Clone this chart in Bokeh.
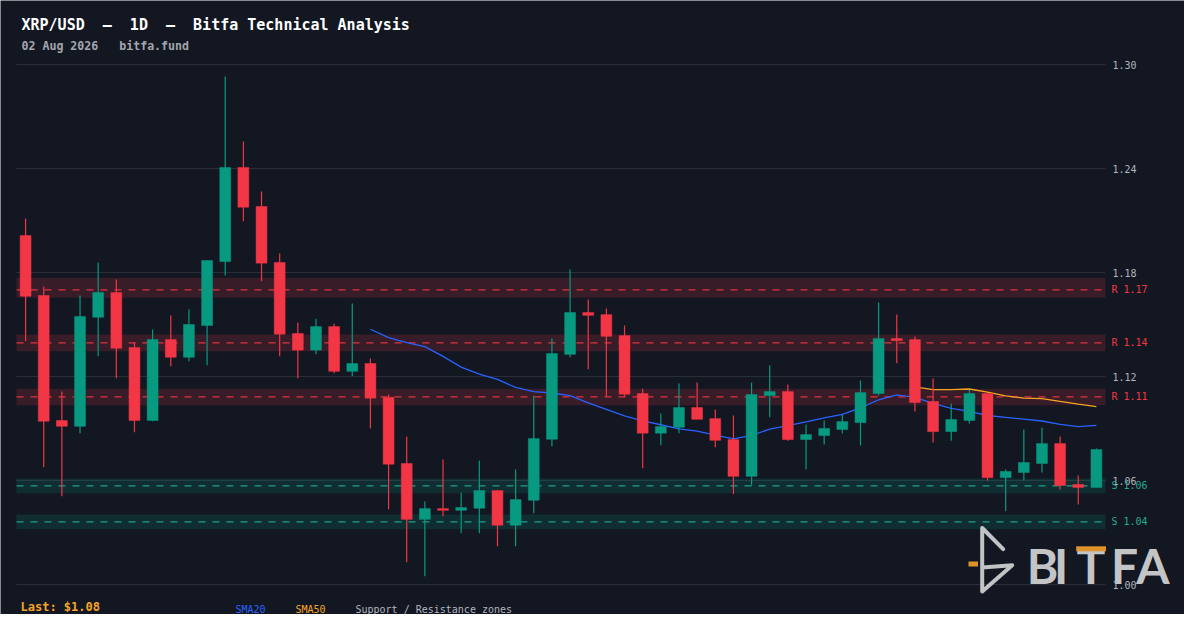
import numpy as np
import pandas as pd
from bokeh.plotting import figure
from bokeh.models import ColumnDataSource, Range1d, PolyAnnotation, BoxAnnotation
from bokeh.core.properties import value
from bokeh.embed import file_html
from bokeh.resources import INLINE

# ---------------- data ----------------
opens = [1.2013, 1.1667, 1.0946, 1.0913, 1.1542, 1.1684, 1.1367, 1.0946, 1.1413, 1.1311,
         1.1494, 1.1863, 1.2406, 1.2181, 1.1858, 1.1448, 1.1352, 1.1488, 1.1230, 1.1275,
         1.1080, 1.0698, 1.0376, 1.0438, 1.0428, 1.0440, 1.0542, 1.0342, 1.0486, 1.0838,
         1.1328, 1.1569, 1.1557, 1.1436, 1.1102, 1.0873, 1.0907, 1.1021, 1.0957, 1.0836,
         1.0624, 1.1090, 1.1113, 1.0836, 1.0859, 1.0894, 1.0934, 1.1102, 1.1419, 1.1413,
         1.1056, 1.0882, 1.0946, 1.1102, 1.0617, 1.0646, 1.0698, 1.0813, 1.0577, 1.0560]
highs = [1.2112, 1.1719, 1.1113, 1.1667, 1.1858, 1.1759, 1.1396, 1.1471, 1.1552, 1.1586,
         1.1869, 1.2931, 1.2556, 1.2267, 1.1909, 1.1511, 1.1533, 1.1504, 1.1621, 1.1304,
         1.1096, 1.0854, 1.0479, 1.0721, 1.0530, 1.0715, 1.0542, 1.0663, 1.1090, 1.1419,
         1.1817, 1.1644, 1.1592, 1.1494, 1.1130, 1.0986, 1.1159, 1.1165, 1.1009, 1.0975,
         1.1165, 1.1263, 1.1154, 1.0923, 1.0946, 1.0980, 1.1177, 1.1627, 1.1557, 1.1431,
         1.1188, 1.1044, 1.1125, 1.1102, 1.0663, 1.0894, 1.0905, 1.0854, 1.0629, 1.0785]
lows = [1.1404, 1.0677, 1.0509, 1.0873, 1.1317, 1.1190, 1.0878, 1.0942, 1.1259, 1.1288,
        1.1265, 1.1783, 1.2096, 1.1750, 1.1317, 1.1190, 1.1328, 1.1219, 1.1201, 1.0901,
        1.0434, 1.0128, 1.0048, 1.0394, 1.0296, 1.0296, 1.0221, 1.0221, 1.0411, 1.0798,
        1.1311, 1.1242, 1.1084, 1.1084, 1.0671, 1.0803, 1.0873, 1.0953, 1.0792, 1.0521,
        1.0571, 1.0965, 1.0830, 1.0663, 1.0807, 1.0871, 1.0802, 1.1090, 1.1276, 1.0998,
        1.0819, 1.0830, 1.0929, 1.0600, 1.0423, 1.0600, 1.0646, 1.0548, 1.0461, 1.0560]
closes = [1.1663, 1.0942, 1.0913, 1.1546, 1.1684, 1.1363, 1.0946, 1.1413, 1.1311, 1.1500,
          1.1869, 1.2406, 1.2177, 1.1854, 1.1444, 1.1352, 1.1488, 1.1230, 1.1275, 1.1075,
          1.0694, 1.0376, 1.0438, 1.0428, 1.0444, 1.0542, 1.0342, 1.0490, 1.0842, 1.1332,
          1.1569, 1.1553, 1.1432, 1.1098, 1.0873, 1.0911, 1.1021, 1.0953, 1.0832, 1.0624,
          1.1096, 1.1113, 1.0836, 1.0865, 1.0900, 1.0940, 1.1107, 1.1419, 1.1407, 1.1050,
          1.0882, 1.0952, 1.1102, 1.0617, 1.0652, 1.0704, 1.0813, 1.0571, 1.0560, 1.0779]

zone_kinds = ["R", "R", "R", "S", "S"]
zone_levels = [1.1700, 1.1394, 1.1083, 1.0569, 1.0361]
zone_lows = [1.1654, 1.1346, 1.1034, 1.0526, 1.0319]
zone_highs = [1.1769, 1.1442, 1.1130, 1.0611, 1.0404]

y_ticks = [1.00, 1.06, 1.12, 1.18, 1.24, 1.30]

title_text = "XRP/USD  \u2013  1D  \u2013  Bitfa Technical Analysis"
subtitle_text = "02 Aug 2026   bitfa.fund"
legend_items = ["SMA20", "SMA50", "Support / Resistance zones"]
logo_letters = ["B", "I", "T", "F", "A"]

# ---------------- styling ----------------
BG = "#131722"
GRID = "#2a2e39"
AXIS_TXT = "#b2b5be"
RED = "#f23645"
GREEN = "#089981"
TEAL = "#22ab94"
BLUE = "#2962ff"
ORANGE = "#f5a623"
LOGO = "#d6d6d6"
MONO = "DejaVu Sans Mono"
W, H = 1184, 614

n = len(closes)
X0, X1 = -0.5, n - 0.5          # candle domain (half a slot of padding each side)


# reference-pixel -> data helpers (used only for placing decoration / text)
def X(px):
    return X0 + (px - 16) / (1105 - 16) * (X1 - X0)


def Y(py):
    return 1.30 - (py - 64) * 0.30 / 520


def keep_spaces(s):
    return s.replace(" ", "\u00a0")


idx = list(range(n))
o = np.array(opens)
c = np.array(closes)
up = c >= o
src = ColumnDataSource(dict(
    x=idx, h=highs, l=lows,
    top=np.maximum(o, c), bottom=np.minimum(o, c),
    color=np.where(up, GREEN, RED).tolist(),
))
sma20 = pd.Series(closes).rolling(20).mean().to_numpy()
sma50 = pd.Series(closes).rolling(50).mean().to_numpy()

zsrc = ColumnDataSource(dict(
    lvl=zone_levels, lo=zone_lows, hi=zone_highs,
    fill=[RED if k == "R" else GREEN for k in zone_kinds],
    line=[RED if k == "R" else TEAL for k in zone_kinds],
    label=[f"{k} {v:.2f}" for k, v in zip(zone_kinds, zone_levels)],
))
tsrc = ColumnDataSource(dict(y=y_ticks, label=[f"{t:.2f}" for t in y_ticks]))

p = figure(width=W, height=H, title=None,
           x_range=Range1d(X(0), X(W)), y_range=Range1d(Y(H), Y(0)),
           x_axis_location=None, y_axis_location=None,
           toolbar_location=None, output_backend="svg",
           background_fill_color=BG, border_fill_color=BG, outline_line_color=None,
           min_border=0, min_border_left=0, min_border_right=0,
           min_border_top=0, min_border_bottom=0)
p.grid.visible = False

# horizontal price grid
p.segment(x0=X0, x1=X1, y0="y", y1="y", source=tsrc, line_color=GRID, line_width=1)

# support / resistance zones + dashed levels
p.quad(left=X0, right=X1, bottom="lo", top="hi", source=zsrc,
       fill_color="fill", fill_alpha=0.17, line_color=None)
p.segment(x0=X0, x1=X1, y0="lvl", y1="lvl", source=zsrc, line_color="line",
          line_alpha=0.9, line_width=1.2, line_dash="7 7")

# moving averages (beneath candles)
p.line(idx, sma20, line_color=BLUE, line_width=1.3)
p.line(idx, sma50, line_color=ORANGE, line_width=1.3)

# candles
p.segment(x0="x", y0="h", x1="x", y1="l", line_color="color", line_width=1.2, source=src)
p.vbar(x="x", width=0.6, top="top", bottom="bottom", fill_color="color",
       line_color="color", line_width=0.5, source=src)

# BITFA watermark
icon_px = [(1002.7, 548.7), (981.7, 527.5), (981.7, 567), (1011.7, 564.7),
           (981.7, 591), (981.7, 527.5)]
p.add_layout(PolyAnnotation(xs=[X(a) for a, b in icon_px], ys=[Y(b) for a, b in icon_px],
                            fill_color=None, fill_alpha=0, line_color=LOGO, line_alpha=0.9,
                            line_width=4, line_join="round", level="glyph"))
p.add_layout(BoxAnnotation(left=X(968), right=X(977.5), top=Y(561), bottom=Y(566),
                           fill_color="#e0922a", fill_alpha=1.0, line_color=None,
                           level="glyph"))
p.text(x=[X(v) for v in [1042, 1060.5, 1090.5, 1124, 1152.5]], y=Y(564.5), text=logo_letters,
       text_color=LOGO, text_alpha=0.92, text_font=value("Lato"), text_font_size="48px",
       text_font_style="bold", text_baseline="middle", text_align="center")
p.add_layout(BoxAnnotation(left=X(1075.7), right=X(1105.5), top=Y(545.8), bottom=Y(550.8),
                           fill_color="#e0922a", fill_alpha=1.0, line_color=None))


# right price scale labels and zone labels
p.text(x=X(1112), y="y", text="label", source=tsrc, text_color=AXIS_TXT,
       text_font=value(MONO), text_font_size="10px",
       text_baseline="middle", text_align="left")
p.text(x=X(1111), y="lvl", text="label", source=zsrc, text_color="line",
       text_font=value(MONO), text_font_size="10px",
       text_baseline="middle", text_align="left")


def put_text(txt, px, py, color, size, bold=False):
    p.text(x=[X(px)], y=[Y(py)], text=[keep_spaces(txt)], text_color=color,
           text_font=value(MONO), text_font_size=size,
           text_font_style="bold" if bold else "normal",
           text_baseline="middle", text_align="left")


# titles
put_text(title_text, 21, 24.2, "#ffffff", "15px", bold=True)
put_text(subtitle_text, 21, 45.2, "#a3a6af", "11.6px", bold=True)

# bottom legend (nudged up a little to stay inside the page)
put_text(f"Last: ${closes[-1]:.2f}", 20, 606.5, ORANGE, "12px", bold=True)
for txt, col, px in zip(legend_items, [BLUE, ORANGE, AXIS_TXT], [235, 295, 355]):
    put_text(txt, px, 608.5, col, "10px")

open("out.html", "w").write(file_html(p, INLINE))
